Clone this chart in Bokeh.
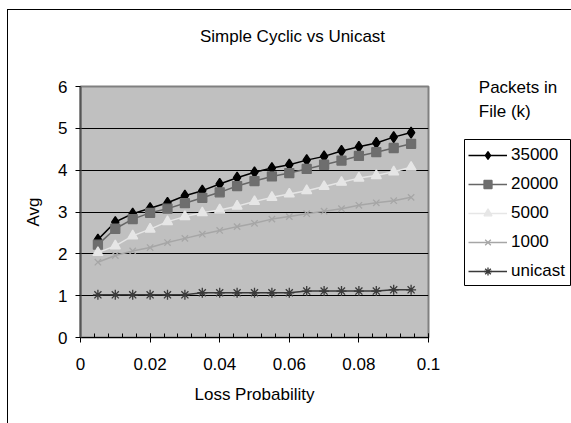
from bokeh.plotting import figure
from bokeh.layouts import row, column
from bokeh.models import (Range1d, SingleIntervalTicker, Legend, LegendItem, Title)
from bokeh.embed import file_html
from bokeh.resources import INLINE

# Loss probability (x) and average transmissions per series
loss = [0.005, 0.010, 0.015, 0.020, 0.025, 0.030, 0.035, 0.040, 0.045, 0.050,
        0.055, 0.060, 0.065, 0.070, 0.075, 0.080, 0.085, 0.090, 0.095]
avg_35000 = [2.34, 2.76, 2.96, 3.09, 3.22, 3.39, 3.51, 3.67, 3.82, 3.95,
             4.05, 4.13, 4.24, 4.33, 4.46, 4.56, 4.65, 4.79, 4.90]
avg_20000 = [2.22, 2.60, 2.83, 2.98, 3.08, 3.21, 3.34, 3.47, 3.62, 3.74,
             3.85, 3.93, 4.03, 4.13, 4.23, 4.34, 4.43, 4.53, 4.63]
avg_5000 = [2.03, 2.19, 2.43, 2.59, 2.77, 2.89, 2.98, 3.05, 3.14, 3.25,
            3.35, 3.43, 3.51, 3.61, 3.71, 3.81, 3.87, 3.96, 4.07]
avg_1000 = [1.80, 1.96, 2.07, 2.15, 2.27, 2.37, 2.47, 2.56, 2.65, 2.73,
            2.83, 2.89, 2.96, 3.02, 3.08, 3.16, 3.22, 3.27, 3.35]
avg_unicast = [1.02, 1.02, 1.02, 1.02, 1.02, 1.02, 1.07, 1.07, 1.07, 1.07,
               1.07, 1.07, 1.11, 1.11, 1.11, 1.11, 1.11, 1.14, 1.14]

series_labels = ["35000", "20000", "5000", "1000", "unicast"]
title_text = "Simple Cyclic vs Unicast"
legend_heading = "Packets in\nFile (k)"
x_title = "Loss Probability"
y_title = "Avg"

FONT = "Liberation Sans"
FS = "17px"

# line colour, marker colour, marker, marker size for each series
styles = [
    ("black", "black", "diamond", 11),
    ("#666666", "#6E6E6E", "square", 9),
    ("#E6E6E6", "#E6E6E6", "triangle", 10),
    ("#A6A6A6", "#A6A6A6", "x", 9),
    ("#3A3A3A", "#3A3A3A", "asterisk", 10),
]
series = [avg_35000, avg_20000, avg_5000, avg_1000, avg_unicast]

# ---------------- title strip ----------------
pt = figure(width=563, height=40, output_backend="svg", toolbar_location=None,
            x_range=Range1d(0, 1), y_range=Range1d(0, 1),
            x_axis_type=None, y_axis_type=None, frame_align=False,
            min_border_left=5, min_border_right=0,
            min_border_top=38, min_border_bottom=0)
pt.outline_line_color = None
pt.background_fill_color = "white"
pt.border_fill_color = "white"
pt.title.text = title_text
pt.title.align = "center"
pt.title.standoff = 6
pt.title.text_font = FONT
pt.title.text_font_size = FS
pt.title.text_font_style = "normal"
pt.title.text_color = "black"

# ---------------- main chart ----------------
p = figure(width=455, height=373, output_backend="svg", toolbar_location=None,
           x_range=Range1d(0, 0.1), y_range=Range1d(0, 6), frame_align=False,
           min_border_left=72, min_border_right=35,
           min_border_top=36, min_border_bottom=86)
p.background_fill_color = "#C0C0C0"
p.border_fill_color = "white"
p.outline_line_color = "#808080"
p.outline_line_width = 2

p.xaxis.ticker = SingleIntervalTicker(interval=0.02, num_minor_ticks=5)
p.yaxis.ticker = SingleIntervalTicker(interval=1, num_minor_ticks=0)
p.xaxis.major_label_overrides = {0: "0", 0.1: "0.1"}
for ax in (p.xaxis, p.yaxis):
    ax.major_label_text_font = FONT
    ax.major_label_text_font_size = FS
    ax.major_label_text_color = "black"
    ax.axis_label_text_font = FONT
    ax.axis_label_text_font_size = FS
    ax.axis_label_text_font_style = "normal"
    ax.axis_label_text_color = "black"
    ax.major_tick_line_color = "black"
    ax.minor_tick_line_color = "black"
p.xaxis.axis_label = x_title
p.yaxis.axis_label = y_title
p.xaxis.axis_line_color = "black"
p.xaxis.major_tick_in = 4
p.xaxis.major_tick_out = 5
p.xaxis.minor_tick_in = 4
p.xaxis.minor_tick_out = 0
p.xaxis.major_label_standoff = 15
p.xaxis.axis_label_standoff = 12
p.yaxis.axis_line_color = "#555555"
p.yaxis.axis_line_width = 2
p.yaxis.major_tick_in = 0
p.yaxis.major_tick_out = 5
p.yaxis.minor_tick_line_color = None
p.yaxis.major_label_standoff = 8
p.yaxis.axis_label_standoff = 12

p.xgrid.grid_line_color = None
p.ygrid.grid_line_color = "black"
p.ygrid.grid_line_width = 1

for vals, (lc, mc, marker, size) in zip(series, styles):
    p.line(loss, vals, line_color=lc, line_width=1.5)
    p.scatter(loss, vals, marker=marker, size=size, fill_color=mc,
              line_color=mc, line_width=1.3)

# ---------------- legend panel ----------------
# the frame of this plot is the legend box; its ranges keep the series
# out of view so only the legend swatches are shown
lg = figure(width=108, height=373, output_backend="svg", toolbar_location=None,
            x_range=Range1d(10, 11), y_range=Range1d(10, 11),
            x_axis_type=None, y_axis_type=None, frame_align=False,
            min_border_left=1, min_border_right=0,
            min_border_top=89, min_border_bottom=138)
lg.background_fill_color = "white"
lg.border_fill_color = "white"
lg.outline_line_color = "black"
lg.outline_line_width = 1
lg.add_layout(Title(text=legend_heading, align="center", standoff=36,
                    vertical_align="bottom", text_font=FONT, text_font_size=FS,
                    text_font_style="normal", text_color="black",
                    text_line_height=1.31), "above")

items = []
for vals, lab, (lc, mc, marker, size) in zip(series, series_labels, styles):
    lr = lg.line(loss, vals, line_color=lc, line_width=1.5)
    sr = lg.scatter(loss, vals, marker=marker, size=size, fill_color=mc,
                    line_color=mc, line_width=1.3)
    items.append(LegendItem(label=lab, renderers=[lr, sr]))

legend = Legend(items=items, location=(4, 0))
legend.label_text_font = FONT
legend.label_text_font_size = FS
legend.label_text_color = "black"
legend.border_line_color = None
legend.background_fill_alpha = 0
legend.padding = 0
legend.margin = 0
legend.spacing = 0
legend.label_height = 29
legend.glyph_height = 20
legend.glyph_width = 39
legend.label_standoff = 4
lg.add_layout(legend, "center")

layout = column(pt, row(p, lg))
# outer chart border; its right and bottom edges fall outside the page
layout.styles = {"margin-left": "7px", "margin-top": "9px",
                 "border-left": "1px solid black", "border-top": "1px solid black"}

open("out.html", "w").write(file_html(layout, INLINE))
